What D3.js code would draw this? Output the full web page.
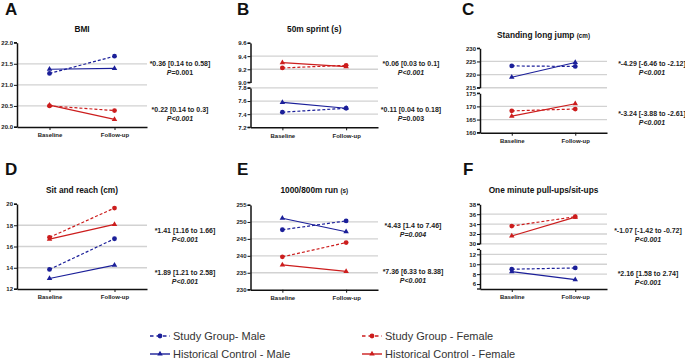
<!DOCTYPE html>
<html>
<head>
<meta charset="utf-8">
<script src="https://cdn.jsdelivr.net/npm/d3@7"></script>
<style>
  body { margin: 0; background: #fff; }
  svg { display: block; font-family: Arial, "Liberation Sans", Helvetica, sans-serif; }
</style>
</head>
<body>
<svg id="chart" width="685" height="359"></svg>
<script>
// ---- data ----
const categories = ['Baseline', 'Follow-up'];
const seriesLabels = ['Study Group- Male', 'Historical Control - Male', 'Study Group - Female', 'Historical Control - Female'];

// rows: study male, control male, study female, control female; cols: baseline, follow-up
const bmiValues    = [[21.27, 21.68], [21.37, 21.39], [20.50, 20.39], [20.52, 20.18]];
const sprintValues = [[7.43, 7.49], [7.58, 7.49], [9.22, 9.26], [9.30, 9.24]];
const jumpValues   = [[223.3, 223.1], [219.0, 224.6], [168.3, 169.0], [166.3, 171.0]];
const reachValues  = [[13.84, 16.73], [12.99, 14.25], [16.86, 19.62], [16.70, 18.08]];
const runValues    = [[247.7, 250.3], [251.1, 247.1], [239.7, 243.9], [237.3, 235.4]];
const pullValues   = [[9.0, 9.25], [8.5, 6.9], [33.6, 35.5], [31.6, 35.4]];

// axis segments (broken axes have two) and tick labels
const bmiSegments    = [[20, 22]];
const sprintSegments = [[9.0, 9.6], [7.2, 7.8]];
const jumpSegments   = [[215, 230], [160, 175]];
const reachSegments  = [[12, 20]];
const runSegments    = [[230, 255]];
const pullSegments   = [[30, 38], [5, 13]];

const bmiTicks    = [[20.0, 20.5, 21.0, 21.5, 22.0]];
const sprintTicks = [[9.0, 9.2, 9.4, 9.6], [7.2, 7.4, 7.6, 7.8]];
const jumpTicks   = [[215, 220, 225, 230], [160, 165, 170, 175]];
const reachTicks  = [[12, 14, 16, 18, 20]];
const runTicks    = [[230, 235, 240, 245, 250, 255]];
const pullTicks   = [[30, 32, 34, 36, 38], [6, 8, 10, 12]];

const bmiGrid    = [20.5, 21.0, 21.5];
const sprintGrid = [9.2, 9.4, 7.4, 7.6, 7.8];
const jumpGrid   = [215, 220, 225, 165, 170];
const reachGrid  = [14, 16, 18];
const runGrid    = [235, 240, 245, 250];
const pullGrid   = [30, 32, 34, 36, 8, 10, 12];

// effect notes: [estimate line, p value, p value fully italic]
const bmiNotes    = [['*0.36 [0.14 to 0.58]', '=0.001', false], ['*0.22 [0.14 to 0.3]', '<0.001', true]];
const sprintNotes = [['*0.06 [0.03 to 0.1]', '<0.001', true], ['*0.11 [0.04 to 0.18]', '=0.003', false]];
const jumpNotes   = [['*-4.29 [-6.46 to -2.12]', '<0.001', true], ['*-3.24 [-3.88 to -2.61]', '<0.001', true]];
const reachNotes  = [['*1.41 [1.16 to 1.66]', '<0.001', true], ['*1.89 [1.21 to 2.58]', '<0.001', true]];
const runNotes    = [['*4.43 [1.4 to 7.46]', '=0.004', true], ['*7.36 [6.33 to 8.38]', '<0.001', true]];
const pullNotes   = [['*-1.07 [-1.42 to -0.72]', '<0.001', true], ['*2.16 [1.58 to 2.74]', '<0.001', true]];

// ---- style ----
const BLUE = '#1b1f99', RED = '#cc1d1d';
const seriesStyle = [
  { color: BLUE, dash: '3,2', mark: 'circle' },
  { color: BLUE, dash: null,  mark: 'triangle' },
  { color: RED,  dash: '3,2', mark: 'circle' },
  { color: RED,  dash: null,  mark: 'triangle' }
];

const panels = [
  { letter: 'A', title: ['BMI', ''], values: bmiValues, segments: bmiSegments, ticks: bmiTicks, grid: bmiGrid, notes: bmiNotes, fmt: '.1f',
    box: { x0: 17, x1: 147, y0: 42.7, y1: 127 }, lx: 5, ly: 15, ty: 31.5, nx: 180, ny: [65.5, 111.5] },
  { letter: 'B', title: ['50m sprint (s)', ''], values: sprintValues, segments: sprintSegments, ticks: sprintTicks, grid: sprintGrid, notes: sprintNotes, fmt: '.1f',
    box: { x0: 250.5, x1: 378, y0: 43, y1: 127.3 }, lx: 237, ly: 15, ty: 31.5, nx: 411, ny: [65.5, 111.5] },
  { letter: 'C', title: ['Standing long jump ', '(cm)'], values: jumpValues, segments: jumpSegments, ticks: jumpTicks, grid: jumpGrid, notes: jumpNotes, fmt: 'd',
    box: { x0: 480, x1: 607, y0: 48.3, y1: 132.7 }, lx: 462, ly: 15, ty: 37.5, nx: 652, ny: [65.5, 115.5] },
  { letter: 'D', title: ['Sit and reach (cm)', ''], values: reachValues, segments: reachSegments, ticks: reachTicks, grid: reachGrid, notes: reachNotes, fmt: 'd',
    box: { x0: 17, x1: 147, y0: 204, y1: 289 }, lx: 5, ly: 175, ty: 193, nx: 185, ny: [232.5, 274.5] },
  { letter: 'E', title: ['1000/800m run ', '(s)'], values: runValues, segments: runSegments, ticks: runTicks, grid: runGrid, notes: runNotes, fmt: 'd',
    box: { x0: 250.5, x1: 378, y0: 205, y1: 289.7 }, lx: 237, ly: 175, ty: 193, nx: 413, ny: [228, 274] },
  { letter: 'F', title: ['One minute pull-ups/sit-ups', ''], values: pullValues, segments: pullSegments, ticks: pullTicks, grid: pullGrid, notes: pullNotes, fmt: 'd',
    box: { x0: 480, x1: 607, y0: 204.3, y1: 289 }, lx: 463, ly: 175, ty: 193, nx: 648, ny: [233, 275.5] }
];

const svg = d3.select('#chart');

function marker(sel, kind, color, cx, cy) {
  if (kind === 'circle') {
    sel.append('circle').attr('cx', cx).attr('cy', cy).attr('r', 2.4).attr('fill', color);
  } else {
    sel.append('path').attr('d', d3.symbol(d3.symbolTriangle, 13)())
      .attr('transform', `translate(${cx},${cy})`).attr('fill', color);
  }
}

function drawPanel(p) {
  const g = svg.append('g');
  const b = p.box;
  const x = d3.scalePoint().domain(categories).range([b.x0, b.x1]).padding(0.5);

  const gap = 5.5, n = p.segments.length;
  const segH = (b.y1 - b.y0 - gap * (n - 1)) / n;
  const ys = p.segments.map((dom, i) => {
    const top = b.y0 + i * (segH + gap);
    return d3.scaleLinear().domain(dom).range([top + segH, top]);
  });
  const yOf = v => {
    const i = p.segments.findIndex(d => v >= d[0] - 1e-9 && v <= d[1] + 1e-9);
    return ys[i](v);
  };

  // panel letter + title
  g.append('text').attr('x', p.lx).attr('y', p.ly)
    .attr('font-size', 17).attr('font-weight', 'bold').attr('fill', '#111').text(p.letter);
  const t = g.append('text').attr('x', (b.x0 + b.x1) / 2).attr('y', p.ty)
    .attr('text-anchor', 'middle').attr('font-size', 8.3).attr('font-weight', 'bold').attr('fill', '#111');
  t.append('tspan').text(p.title[0]);
  if (p.title[1]) t.append('tspan').attr('font-size', 6.3).text(p.title[1]);

  // grid
  g.selectAll('line.grid').data(p.grid).join('line').attr('class', 'grid')
    .attr('x1', b.x0).attr('x2', b.x1)
    .attr('y1', d => yOf(d)).attr('y2', d => yOf(d))
    .attr('stroke', '#d2d2d2').attr('stroke-width', 1.3);

  // y axis segments
  ys.forEach((s, i) => {
    const ag = g.append('g').attr('transform', `translate(${b.x0},0)`)
      .call(d3.axisLeft(s).tickValues(p.ticks[i]).tickSize(3).tickSizeOuter(0).tickFormat(d3.format(p.fmt)))
      .attr('font-family', null).attr('font-size', null);
    ag.select('.domain').attr('stroke', '#111').attr('stroke-width', 1.5);
    ag.selectAll('.tick line').attr('stroke', '#111').attr('stroke-width', 1);
    ag.selectAll('.tick text').attr('font-size', 6).attr('font-weight', 'bold')
      .attr('fill', '#222').attr('x', -4);
    // break caps
    s.range().forEach(r => ag.append('line').attr('x1', -3).attr('x2', 0).attr('y1', r).attr('y2', r)
      .attr('stroke', '#111').attr('stroke-width', 1.3));
  });

  // x axis
  const xg = g.append('g').attr('transform', `translate(0,${b.y1})`)
    .call(d3.axisBottom(x).tickSize(3).tickSizeOuter(0))
    .attr('font-family', null).attr('font-size', null);
  xg.select('.domain').attr('stroke', '#111').attr('stroke-width', 1.5);
  xg.selectAll('.tick line').attr('stroke', '#111');
  xg.selectAll('.tick text').attr('font-size', 6).attr('font-weight', 'bold')
    .attr('fill', '#222').attr('y', 6);

  // series
  const line = d3.line().x((d, i) => x(categories[i])).y(d => yOf(d));
  p.values.forEach((vals, si) => {
    const st = seriesStyle[si];
    g.append('path').attr('d', line(vals)).attr('fill', 'none')
      .attr('stroke', st.color).attr('stroke-width', 1.2)
      .attr('stroke-dasharray', st.dash);
    vals.forEach((v, i) => marker(g, st.mark, st.color, x(categories[i]), yOf(v)));
  });

  // notes
  p.notes.forEach((nt, i) => {
    const tx = g.append('text').attr('x', p.nx).attr('y', p.ny[i])
      .attr('text-anchor', 'middle').attr('font-size', 7).attr('font-weight', 'bold').attr('fill', '#222');
    tx.append('tspan').text(nt[0]);
    const l2 = g.append('text').attr('x', p.nx).attr('y', p.ny[i] + 9)
      .attr('text-anchor', 'middle').attr('font-size', 7).attr('font-weight', 'bold').attr('fill', '#222');
    l2.append('tspan').attr('font-style', 'italic').text('P');
    l2.append('tspan').attr('font-style', nt[2] ? 'italic' : 'normal').text(nt[1]);
  });
}

panels.forEach(drawPanel);

// legend
const legendPos = [[150, 336], [150, 354], [362, 336], [362, 354]];
const lg = svg.append('g');
seriesLabels.forEach((label, i) => {
  const [lx, ly] = legendPos[i];
  const st = seriesStyle[i];
  lg.append('line').attr('x1', lx).attr('x2', lx + 20).attr('y1', ly).attr('y2', ly)
    .attr('stroke', st.color).attr('stroke-width', 1.4).attr('stroke-dasharray', st.dash ? '3.5,3' : null);
  marker(lg, st.mark, st.color, lx + 10, ly);
  lg.append('text').attr('x', lx + 23).attr('y', ly).attr('dy', '0.36em')
    .attr('font-size', 11).attr('fill', '#333').text(label);
});
</script>
</body>
</html>
